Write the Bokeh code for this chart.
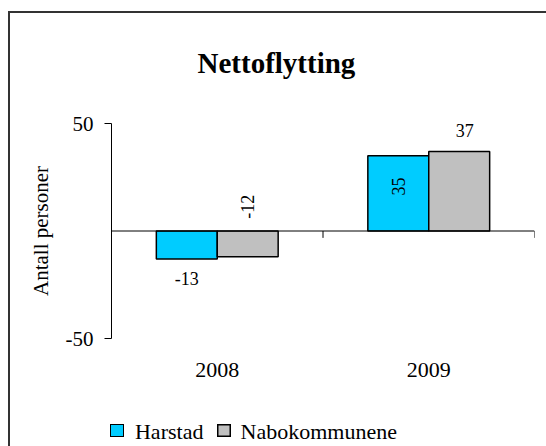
import math
from bokeh.plotting import figure
from bokeh.models import (Range1d, FixedTicker, LinearAxis, Span,
                          ColumnDataSource, InlineStyleSheet)
from bokeh.core.properties import value
from bokeh.embed import file_html
from bokeh.resources import INLINE

# ---- data ----
chart_title = "Nettoflytting"
years = ["2008", "2009"]
series_names = ["Harstad", "Nabokommunene"]
harstad = [-13, 35]
nabokommunene = [-12, 37]
y_ticks = [-50, 50]
y_tick_labels = ["-50", "50"]
y_label = "Antall personer"

# ---- styles ----
FONT = "Liberation Serif"
colors = ["#00CCFF", "#C0C0C0"]
bar_w = 0.288
legend_text_x = [0.2728, 0.9797]   # horizontal placement of legend entries (x-range units)

p = figure(width=546, height=446,
           x_range=Range1d(0, len(years)), y_range=Range1d(-50, 50),
           output_backend="svg", toolbar_location=None,
           min_border_left=111, min_border_right=12,
           min_border_top=123, min_border_bottom=106)
p.outline_line_color = None
p.xgrid.visible = False
p.ygrid.visible = False
p.background_fill_color = "white"
p.border_fill_color = "white"
p.stylesheets = [InlineStyleSheet(css=(
    # chart-area border
    ":host::after { content: ''; position: absolute; left: 8px; top: 11px; "
    "width: 600px; height: 600px; border-left: 2px solid #333333; "
    "border-top: 2px solid #333333; pointer-events: none; z-index: 5; }"
    # legend swatches
    ":host::before { content: ''; position: absolute; left: 110px; top: 424px; "
    "width: 12px; height: 11px; background: %s; border: 1.5px solid #000000; "
    "box-shadow: 107px 0 0 -1.5px %s, 107px 0 0 0 #000000; "
    "pointer-events: none; z-index: 5; }" % (colors[0], colors[1])))]

# bars
renderers = []
for k, (vals, col) in enumerate(zip([harstad, nabokommunene], colors)):
    off = (k - 0.5) * bar_w
    xs = [i + 0.5 + off for i in range(len(years))]
    src = ColumnDataSource(dict(x=xs, top=vals))
    r = p.vbar(x="x", top="top", bottom=0, width=bar_w, source=src,
               fill_color=col, line_color="black", line_width=1.5)
    renderers.append(r)

# zero line with category-boundary ticks
p.add_layout(Span(location=0, dimension="width", line_color="black", line_width=1))
bx = list(range(len(years) + 1))
p.segment(x0=bx, x1=bx, y0=[0] * len(bx), y1=[-3.2] * len(bx),
          line_color="black", line_width=1)

# data labels (Excel-style placement)
lab_x, lab_y, lab_t, lab_a = [], [], [], []
for i, v in enumerate(harstad):
    lab_x.append(i + 0.5 - 0.5 * bar_w)
    lab_t.append(str(v))
    if v < 0:
        lab_y.append(v - 9.2); lab_a.append(0.0)
    else:
        lab_y.append(v * 0.59); lab_a.append(math.pi / 2)
for i, v in enumerate(nabokommunene):
    lab_t.append(str(v))
    if v < 0:
        lab_x.append(i + 0.5 + 0.5 * bar_w)
        lab_y.append(11.3); lab_a.append(math.pi / 2)
    else:
        lab_x.append(i + 0.5 + 0.5 * bar_w + 0.026)
        lab_y.append(v + 9.8); lab_a.append(0.0)
lsrc = ColumnDataSource(dict(x=lab_x, y=lab_y, text=lab_t, angle=lab_a))
p.text(x="x", y="y", text="text", angle="angle", source=lsrc,
       text_font=value(FONT), text_font_size="18px", text_color="black",
       text_align="center", text_baseline="middle")

# title
p.title.text = chart_title
p.title.align = "left"
p.title.offset = 86
p.title.standoff = 89
p.title.text_font = FONT
p.title.text_font_size = "29px"
p.title.text_font_style = "bold"
p.title.text_color = "black"

# category label axis
xa = p.xaxis[0]
xa.ticker = FixedTicker(ticks=[i + 0.5 for i in range(len(years))])
xa.major_label_overrides = {i + 0.5: y for i, y in enumerate(years)}
xa.axis_line_color = None
xa.major_tick_line_color = None
xa.minor_tick_line_color = None
xa.major_tick_out = 0
xa.major_tick_in = 0
xa.major_label_standoff = 24
xa.major_label_text_font = FONT
xa.major_label_text_font_size = "22px"
xa.major_label_text_color = "black"

# legend texts (as an extra label-only axis below the categories)
lax = LinearAxis(ticker=FixedTicker(ticks=legend_text_x),
                 major_label_overrides={x: n for x, n in zip(legend_text_x, series_names)},
                 axis_line_color=None, major_tick_line_color=None,
                 minor_tick_line_color=None, major_tick_out=0, major_tick_in=0,
                 major_label_standoff=39, major_label_text_font=FONT,
                 major_label_text_font_size="22px", major_label_text_color="black")
p.add_layout(lax, "below")

# y axis
ya = p.yaxis[0]
ya.ticker = FixedTicker(ticks=y_ticks)
ya.major_label_overrides = {t: s for t, s in zip(y_ticks, y_tick_labels)}
ya.axis_label = y_label
ya.axis_label_text_font = FONT
ya.axis_label_text_font_size = "21px"
ya.axis_label_text_font_style = "normal"
ya.axis_label_text_color = "black"
ya.axis_label_standoff = 10
ya.major_label_text_font = FONT
ya.major_label_text_font_size = "21px"
ya.major_label_text_color = "black"
ya.major_label_standoff = 11
ya.major_tick_out = 7
ya.major_tick_in = 0
ya.minor_tick_line_color = None
ya.axis_line_color = "black"
ya.major_tick_line_color = "black"

open("out.html", "w").write(file_html(p, INLINE))
